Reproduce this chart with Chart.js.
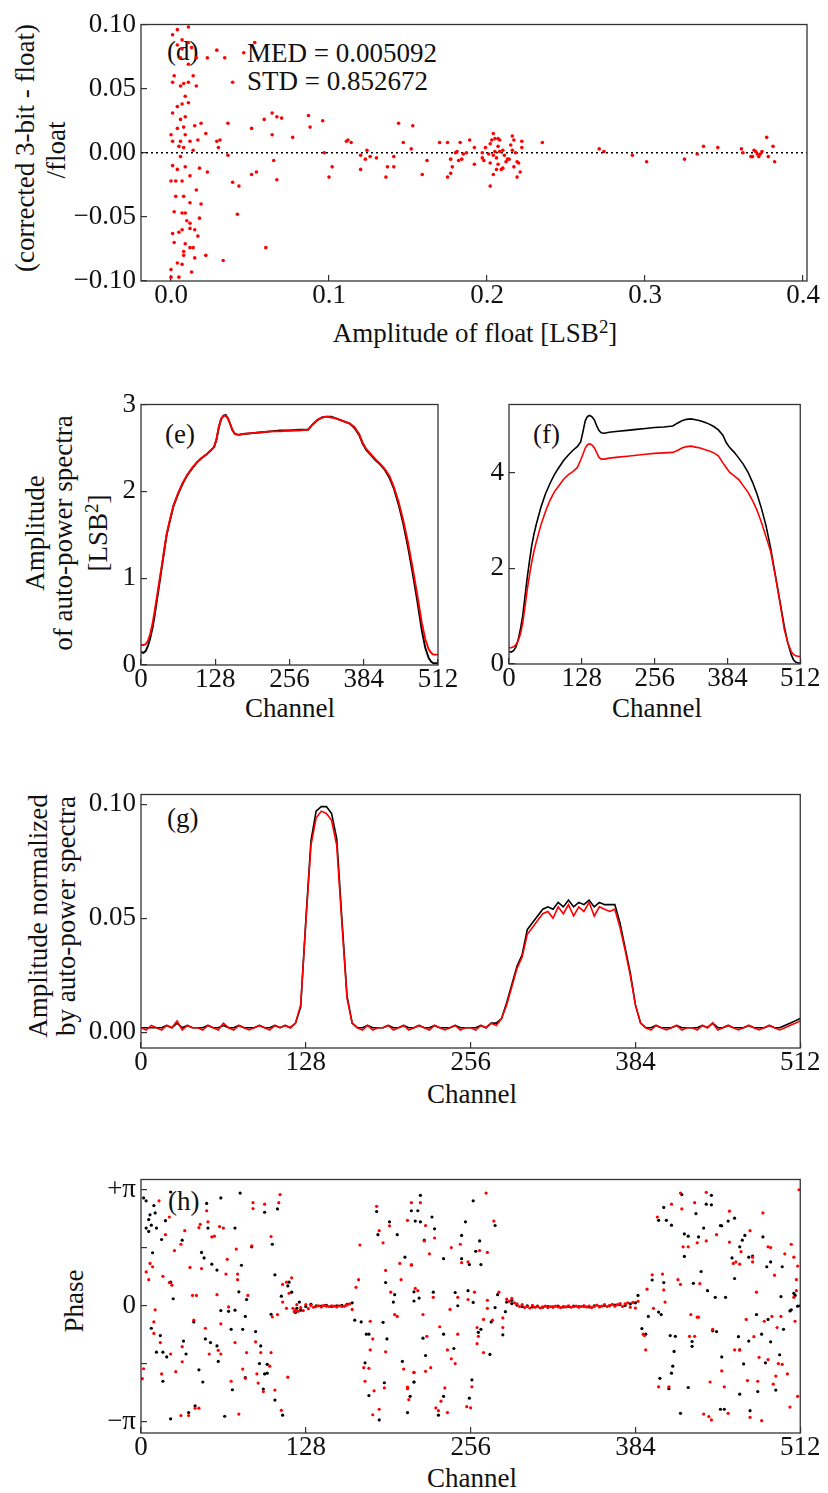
<!DOCTYPE html>
<html>
<head>
<meta charset="utf-8">
<script src="https://cdn.jsdelivr.net/npm/chart.js@4.4.1/dist/chart.umd.min.js"></script>
<style>
  html, body { margin: 0; padding: 0; background: #fff; }
  #page { position: relative; width: 828px; height: 1493px; overflow: hidden;
          font-family: "Liberation Serif", "Times New Roman", serif; color: #111; }
  canvas { position: absolute; }
  .t { position: absolute; white-space: nowrap; font-size: 27px; line-height: 1;
       transform: translate(-50%, -50%); }
  .v { transform: translate(-50%, -50%) rotate(-90deg); }
  .l { position: absolute; white-space: nowrap; font-size: 27px; line-height: 1;
       transform: translateY(-50%); }
  sup { font-size: 0.7em; vertical-align: 0.45em; line-height: 0; }
</style>
</head>
<body>
<div id="page">
  <!-- panel (d) -->
  <div class="t v" style="left:25px; top:148px">(corrected 3-bit - float)</div>
  <div class="t v" style="left:56px; top:150px">/float</div>
  <div class="t" style="left:475px; top:333px">Amplitude of float [LSB<sup>2</sup>]</div>
  <div class="l" style="left:167px; top:51px">(d)</div>
  <div class="l" style="left:247px; top:53px">MED = 0.005092</div>
  <div class="l" style="left:247px; top:81px">STD = 0.852672</div>

  <!-- panels (e), (f) -->
  <div class="t v" style="left:35px; top:533px">Amplitude</div>
  <div class="t v" style="left:63px; top:533px">of auto-power spectra</div>
  <div class="t v" style="left:98px; top:533px">[LSB<sup>2</sup>]</div>
  <div class="l" style="left:165px; top:434px">(e)</div>
  <div class="l" style="left:533px; top:434px">(f)</div>
  <div class="t" style="left:290px; top:708px">Channel</div>
  <div class="t" style="left:657px; top:708px">Channel</div>

  <!-- panel (g) -->
  <div class="t v" style="left:38px; top:916px">Amplitude normalized</div>
  <div class="t v" style="left:66px; top:916px">by auto-power spectra</div>
  <div class="l" style="left:167px; top:818px">(g)</div>
  <div class="t" style="left:472px; top:1094px">Channel</div>

  <!-- panel (h) -->
  <div class="t v" style="left:74px; top:1301px">Phase</div>
  <div class="l" style="left:168px; top:1201px">(h)</div>
  <div class="t" style="left:472px; top:1478px">Channel</div>

  <canvas id="cd" width="828" height="320" style="left:0; top:0"></canvas>
  <canvas id="ce" width="470" height="320" style="left:0; top:380px"></canvas>
  <canvas id="cf" width="358" height="320" style="left:470px; top:380px"></canvas>
  <canvas id="cg" width="828" height="320" style="left:0; top:770px"></canvas>
  <canvas id="ch" width="828" height="320" style="left:0; top:1155px"></canvas>
</div>

<script>
// ---- (d) relative difference vs amplitude ----
const dPoints = [
  [0.001,0.092],[0.004,0.096],[0.011,0.098],[0.007,0.088],[0.011,0.086],[0.004,0.084],[0.007,0.081],[0.013,0.082],
  [0.006,0.074],[0.011,0.069],[0.016,0.074],[0.023,0.074],[0.029,0.080],[0.034,0.074],[0.053,0.086],[0.046,0.078],
  [0.002,0.060],[0.006,0.052],[0.008,0.054],[0.011,0.055],[0.014,0.060],[0.016,0.052],[0.001,0.055],[0.009,0.044],
  [0.007,0.038],[0.004,0.036],[0.011,0.039],[0.001,0.031],[0.006,0.026],[0.009,0.028],[0.039,0.055],[0.000,0.014],
  [0.004,0.019],[0.008,0.020],[0.015,0.021],[0.019,0.023],[0.001,0.009],[0.006,0.009],[0.009,0.014],[0.012,0.009],
  [0.017,0.010],[0.022,0.015],[0.005,0.005],[0.008,0.004],[0.014,0.002],[0.029,0.009],[0.031,0.010],[0.030,0.004],
  [0.036,0.023],[0.036,-0.002],[0.006,-0.003],[0.001,-0.010],[0.004,-0.013],[0.009,-0.011],[0.018,-0.012],[0.023,-0.015],
  [0.000,-0.022],[0.003,-0.022],[0.007,-0.022],[0.012,-0.018],[0.016,-0.029],[0.003,-0.034],[0.008,-0.034],[0.012,-0.039],
  [0.019,-0.040],[0.018,-0.051],[0.002,-0.046],[0.007,-0.047],[0.009,-0.047],[0.010,-0.053],[0.012,-0.055],[0.007,-0.060],
  [0.012,-0.059],[0.015,-0.060],[0.001,-0.063],[0.005,-0.062],[0.017,-0.065],[0.002,-0.070],[0.009,-0.071],[0.012,-0.074],
  [0.014,-0.074],[0.008,-0.077],[0.008,-0.080],[0.015,-0.082],[0.022,-0.080],[0.004,-0.086],[0.007,-0.087],[0.000,-0.091],
  [0.013,-0.093],[0.005,-0.097],[0.000,-0.097],[0.033,-0.084],[0.042,-0.048],[0.039,-0.023],[0.043,-0.026],[0.051,-0.017],
  [0.054,-0.015],[0.060,-0.074],[0.051,0.019],[0.059,0.026],[0.064,0.031],[0.067,0.028],[0.070,0.027],[0.064,0.014],
  [0.065,-0.006],[0.067,-0.021],[0.077,0.012],[0.087,0.029],[0.088,0.020],[0.096,0.025],[0.097,0.000],[0.102,-0.011],
  [0.100,-0.019],[0.111,0.009],[0.112,0.010],[0.114,0.008],[0.120,-0.002],[0.120,-0.013],[0.124,0.002],[0.123,-0.005],
  [0.126,-0.003],[0.130,-0.004],[0.136,-0.019],[0.137,-0.011],[0.141,-0.011],[0.141,-0.003],[0.144,0.023],[0.147,0.008],
  [0.153,0.021],[0.152,0.003],[0.159,-0.017],[0.162,-0.006],[0.170,0.008],[0.175,0.008],[0.175,-0.019],[0.177,-0.016],
  [0.178,-0.011],[0.177,-0.005],[0.180,0.000],[0.181,0.001],[0.183,0.008],[0.182,-0.006],[0.184,-0.005],[0.185,-0.001],
  [0.187,0.000],[0.189,0.010],[0.192,-0.009],[0.192,0.004],[0.197,0.000],[0.197,-0.004],[0.198,-0.006],[0.199,0.004],
  [0.202,0.007],[0.204,0.015],[0.203,0.010],[0.205,0.011],[0.207,0.011],[0.208,0.010],[0.201,-0.001],[0.202,-0.008],
  [0.204,-0.002],[0.205,0.001],[0.206,-0.004],[0.207,-0.009],[0.206,-0.013],[0.204,-0.017],[0.202,-0.026],[0.208,0.001],
  [0.207,0.005],[0.209,-0.013],[0.210,-0.012],[0.210,0.002],[0.211,-0.002],[0.212,-0.007],[0.213,-0.005],[0.214,-0.005],
  [0.215,0.006],[0.216,0.013],[0.217,0.010],[0.216,0.002],[0.218,0.000],[0.217,-0.011],[0.219,-0.007],[0.219,-0.019],
  [0.220,-0.008],[0.221,-0.015],[0.222,0.009],[0.222,0.004],[0.235,0.008],[0.271,0.003],[0.274,0.001],[0.292,-0.002],
  [0.301,-0.007],[0.325,-0.005],[0.333,-0.001],[0.337,0.005],[0.346,0.004],[0.361,0.003],[0.362,0.000],[0.367,-0.003],
  [0.368,-0.003],[0.369,0.002],[0.370,0.001],[0.371,-0.001],[0.372,-0.003],[0.373,-0.001],[0.374,0.001],[0.377,0.012],
  [0.378,-0.003],[0.381,0.005],[0.382,-0.007]
];
const dXTicks = [0, 0.1, 0.2, 0.3, 0.4];
const dYTicks = [-0.1, -0.05, 0, 0.05, 0.1];

// ---- (e), (f) auto-power spectra, sampled channels ----
const specCh = [0,4,8,12,16,20,24,28,32,36, 40,44,48,56,64,72,80,88,96,104,
  112,120,126,130,134,138,142,146,150,154, 158,162,168,176,192,208,224,240,256,272,
  288,296,304,312,320,328,336,344,352,360, 368,376,382,388,396,404,412,420,428,436,
  444,452,460,468,476,484,490,496,500,504, 508,512];
const eBlack = [0.15,0.14,0.16,0.22,0.31,0.43,0.59,0.77,0.95,1.13, 1.31,1.49,1.61,1.83,1.97,2.09,2.19,2.26,2.33,2.38,
  2.42,2.47,2.51,2.59,2.73,2.83,2.87,2.88,2.84,2.77, 2.70,2.66,2.65,2.66,2.67,2.68,2.69,2.70,2.70,2.71,
  2.71,2.77,2.82,2.85,2.86,2.86,2.84,2.82,2.80,2.78, 2.73,2.65,2.55,2.48,2.42,2.36,2.31,2.25,2.16,2.03,
  1.85,1.63,1.37,1.07,0.75,0.40,0.20,0.08,0.04,0.02, 0.02,0.02];
const eRed = [0.23,0.23,0.24,0.28,0.36,0.48,0.64,0.81,0.98,1.15, 1.33,1.50,1.62,1.84,1.98,2.10,2.19,2.27,2.33,2.38,
  2.42,2.47,2.51,2.60,2.74,2.83,2.87,2.87,2.84,2.77, 2.70,2.66,2.65,2.66,2.67,2.68,2.69,2.69,2.70,2.70,
  2.71,2.77,2.82,2.85,2.86,2.85,2.84,2.82,2.80,2.78, 2.74,2.66,2.56,2.49,2.43,2.37,2.32,2.26,2.18,2.05,
  1.88,1.67,1.42,1.13,0.82,0.49,0.30,0.18,0.14,0.12, 0.12,0.12];
const fBlack = [0.26,0.25,0.28,0.35,0.50,0.72,1.00,1.40,1.80,2.15, 2.48,2.72,2.92,3.27,3.55,3.77,3.96,4.11,4.25,4.36,
  4.46,4.54,4.64,4.85,5.08,5.17,5.19,5.16,5.10,4.98, 4.88,4.83,4.82,4.84,4.86,4.88,4.90,4.92,4.94,4.95,
  4.97,5.03,5.08,5.11,5.12,5.10,5.08,5.05,5.01,4.96, 4.89,4.78,4.62,4.52,4.42,4.30,4.17,4.01,3.80,3.55,
  3.24,2.88,2.42,1.87,1.33,0.78,0.45,0.20,0.09,0.04, 0.02,0.02];
const fRed = [0.34,0.34,0.36,0.40,0.48,0.62,0.85,1.18,1.55,1.85, 2.13,2.36,2.55,2.90,3.18,3.42,3.60,3.73,3.86,3.95,
  4.02,4.10,4.26,4.38,4.51,4.58,4.60,4.57,4.52,4.42, 4.32,4.28,4.28,4.30,4.32,4.34,4.36,4.38,4.40,4.41,
  4.42,4.46,4.51,4.54,4.55,4.53,4.51,4.48,4.45,4.41, 4.35,4.20,4.10,4.00,3.93,3.85,3.72,3.59,3.42,3.21,
  2.95,2.65,2.35,1.85,1.30,0.72,0.45,0.26,0.20,0.17, 0.16,0.15];
const chTicks = [0, 128, 256, 384, 512];
const eYTicks = [0, 1, 2, 3];
const fYTicks = [0, 2, 4];

// ---- (g) normalized cross amplitude, every 4th channel ----
const gStep = 4;
const gBlack = [
  .002,.002,.002,.002,.002,.003,.002,.004,.002,.003,.002,.002,.002,.003,.002,.002,
  .003,.002,.002,.003,.002,.002,.002,.003,.002,.002,.003,.002,.003,.002,.004,.011,
  .049,.084,.097,.099,.099,.096,.085,.050,.016,.004,.002,.002,.003,.002,.002,.002,
  .003,.002,.002,.003,.002,.002,.003,.002,.002,.003,.002,.002,.002,.003,.002,.002,
  .002,.002,.003,.002,.004,.004,.006,.013,.021,.029,.034,.045,.048,.051,.054,.055,
  .054,.057,.055,.058,.055,.057,.056,.058,.055,.057,.056,.056,.056,.048,.037,.026,
  .012,.004,.002,.002,.003,.002,.002,.002,.003,.002,.002,.002,.002,.003,.002,.004,
  .002,.002,.003,.002,.002,.002,.003,.002,.002,.002,.003,.002,.002,.003,.004,.005,
  .006];
const gRed = [
  .002,.001,.003,.002,.001,.003,.002,.005,.001,.003,.002,.002,.001,.003,.002,.001,
  .004,.002,.001,.003,.002,.001,.002,.003,.002,.001,.003,.002,.003,.002,.004,.012,
  .048,.082,.094,.097,.096,.093,.082,.048,.015,.004,.002,.001,.003,.001,.002,.002,
  .003,.001,.002,.003,.001,.002,.003,.002,.001,.003,.002,.001,.002,.003,.001,.002,
  .002,.001,.003,.002,.004,.003,.006,.012,.020,.028,.033,.043,.046,.049,.052,.053,
  .050,.055,.052,.056,.051,.055,.053,.057,.051,.055,.054,.053,.054,.046,.036,.025,
  .012,.004,.002,.001,.003,.002,.001,.002,.003,.001,.002,.002,.001,.003,.002,.004,
  .001,.002,.003,.002,.001,.002,.003,.002,.001,.002,.003,.002,.001,.002,.003,.004,
  .005];
const gYTicks = [0, 0.05, 0.1];

// ---- (h) cross-spectrum phase [channel, rad] ----
const hBlack = [
  [2,2.93],[4,2.85],[6,2.34],[7,2.47],[10,2.72],[11,2.52],[12,2.11],[4,2.11],[6,2.02],[8,2.19],[23,3.09],[16,1.80],
  [19,2.31],[23,0.64],[25,0.19],[9,1.44],[8,-0.61],[15,-0.81],[12,-1.26],[17,-1.26],[20,-1.39],[17,-2.05],[33,-0.96],
  [35,-1.31],[45,-1.74],[41,-0.44],[42,-2.72],[37,-2.90],[23,-3.07],[48,-2.07],[32,1.78],[47,1.45],[49,1.30],[55,1.13],
  [59,0.97],[62,-0.13],[68,-0.15],[73,-0.12],[70,-0.64],[79,-0.64],[76,0.38],[78,1.10],[82,0.17],[81,-0.29],[73,2.11],
  [77,3.06],[62,2.93],[51,2.78],[52,2.11],[50,-0.90],[54,-1.00],[59,-1.09],[60,-1.51],[65,-3.00],[71,-2.28],[81,-1.95],
  [89,-0.70],[86,1.60],[92,-1.57],[93,-1.09],[96,-1.85],[98,-1.83],[95,-2.26],[98,-1.59],[96,2.54],[102,1.67],[106,2.63],
  [104,0.84],[101,-0.23],[109,0.26],[114,0.54],[110,-2.97],[104,-2.56],[115,0.64],[117,0.37],[121,-0.07],[123,0.10],
  [120,-0.18],[124,-0.12],[128,-0.02],[132,0.04],[136,0.00],[140,-0.01],[144,0.01],[148,-0.02],[152,0.00],[156,0.01],
  [160,0.04],[164,0.08],
  [166,-0.39],[171,-0.44],[174,-1.55],[175,-0.77],[177,-0.77],[177,-2.44],[183,2.56],[184,1.93],[185,-3.10],[188,-0.45],
  [189,-2.09],[190,0.63],[191,-0.90],[193,2.28],[196,0.10],[197,0.30],[199,1.93],[203,-1.51],[205,1.32],[207,-2.90],
  [210,2.58],[213,2.30],[212,-2.07],[212,0.38],
  [217,3.00],[215,2.58],[217,2.28],[226,2.41],[228,2.09],[220,1.78],[235,1.28],[249,1.91],[252,2.28],[249,1.28],[255,1.12],
  [258,2.85],[260,1.48],[263,1.76],[264,1.12],[275,2.18],[216,0.21],[212,0.13],[227,0.37],[244,0.36],[246,0.00],[254,0.41],
  [258,0.09],[272,-0.44],[275,-0.05],[277,0.30],[264,-0.64],[262,-0.72],[281,-0.79],[283,-0.16],[219,-0.88],[221,-1.35],
  [235,-0.77],[243,-1.16],[212,-2.07],[209,-2.46],[235,-2.46],[231,-2.97],[255,-2.51],[257,-2.01],[271,-1.32],[288,0.06],
  [284,0.10],[288,0.15],[292,0.02],[296,-0.02],[300,0.00],[304,-0.03],[308,-0.01],[312,-0.04],[316,-0.02],[320,-0.03],
  [324,-0.01],[328,-0.03],[332,-0.02],[336,-0.01],[340,-0.02],[344,-0.01],[348,-0.03],[352,0.00],[356,-0.02],[360,0.01],
  [364,0.00],[368,0.02],[372,0.03],[376,0.01],[380,0.05],[384,0.08],
  [386,0.28],[389,-0.62],[392,-0.77],[397,0.70],[394,-0.29],[402,2.32],[408,2.32],[412,2.19],[406,2.67],[406,0.63],
  [402,-0.17],[404,-0.24],[411,-0.81],[415,-0.83],[414,-1.24],[413,-1.64],[412,-1.83],[410,-2.25],[403,-1.97],[419,-2.92],
  [420,3.02],[422,1.95],[425,1.89],[422,1.34],[429,0.61],[431,2.50],[433,1.87],[437,2.11],[439,2.76],[443,2.74],[443,3.00],
  [435,0.93],[440,0.41],[444,-0.68],[447,-0.70],[428,-0.97],[428,-1.10],[446,0.23],[450,2.18],[451,2.17],[451,-1.39],
  [456,2.30],[461,2.38],[454,0.23],[461,0.74],[464,-0.84],[465,1.60],[467,1.78],[469,1.91],[459,1.30],[468,-1.58],
  [472,1.32],[475,1.35],[483,1.87],[478,-0.24],[479,-2.33],[486,1.06],[489,1.19],[487,-0.37],[482,-0.77],[489,-0.98],
  [485,-1.55],[496,-1.33],[493,-2.29],[499,-0.64],[498,1.06],[497,0.25],[504,-0.14],[505,-0.11],[507,0.34],[508,0.28],
  [510,-0.01],[512,0.00],[473,-2.85],[465,-2.40],[450,-2.81],[453,-2.81],[465,-1.20],[472,-0.96],[425,-2.22]
];
const hRed = [
  [1,-1.98],[2,-1.71],[4,0.92],[6,0.71],[7,1.15],[9,1.06],[11,-0.11],[10,-0.75],[10,-0.44],[17,0.80],[16,-1.85],
  [15,-1.00],[22,0.63],[24,0.56],[23,-1.31],[26,1.50],[27,-1.79],[14,2.85],[19,1.93],[22,2.41],[31,1.67],[34,2.04],
  [32,-1.11],[32,-1.52],[31,-2.98],[37,-2.98],[42,-2.78],[45,-2.78],[38,1.04],[40,0.28],[43,0.28],[41,-0.39],[45,2.12],
  [46,2.21],[51,2.58],[52,2.28],[50,-0.61],[47,1.01],[53,-1.31],[55,1.87],[57,1.89],[59,0.30],[60,-1.21],[62,-1.31],
  [62,-0.49],[61,2.15],[64,2.11],[66,0.86],[67,1.26],[68,-0.03],[70,-2.05],[73,-1.00],[74,1.54],[75,0.86],[75,0.71],
  [76,-2.94],[79,-1.72],[81,-1.97],[82,-1.27],[83,0.28],[86,1.63],[87,2.80],[87,2.64],[89,-0.98],[90,-1.85],[91,-2.10],
  [93,-1.27],[95,-2.33],[96,2.76],[100,-1.64],[101,-1.27],[101,1.88],[102,-0.30],[104,-2.29],[106,-0.24],[108,3.02],
  [107,2.80],[109,-2.84],[110,0.58],[113,0.64],[110,0.10],[114,-1.94],[113,-0.07],[115,0.34],[117,0.76],[118,-0.07],
  [119,-0.16],[121,0.03],
  [120,-0.12],[122,-0.15],[124,-0.05],[126,-0.13],[128,0.03],[130,-0.08],[132,0.01],[134,-0.04],[136,-0.02],[138,0.00],
  [140,-0.03],[142,0.01],[144,-0.01],[146,-0.02],[148,0.00],[150,-0.01],[152,-0.03],[154,0.00],[156,-0.02],[158,-0.01],
  [160,0.02],[162,0.05],[164,-0.10],
  [167,0.50],[169,0.71],[170,1.65],[173,-1.68],[177,-1.70],[174,-2.05],[178,-0.42],[178,-1.20],[180,-0.90],[180,-2.96],
  [181,-2.31],[185,-2.81],[183,2.70],[185,2.04],[188,1.71],[190,0.96],[190,-1.25],[189,-2.23],[193,2.17],[194,0.37],
  [197,-0.24],[199,-0.29],[201,1.15],[202,0.71],[204,-1.72],[207,-2.25],[208,-2.55],[210,2.80],[207,2.32],[210,1.12],
  [212,-1.81],
  [217,2.80],[210,1.10],[220,1.76],[221,2.18],[228,1.84],[224,1.41],[241,1.58],[248,1.67],[249,1.17],[254,1.19],[263,1.50],
  [269,1.45],[268,3.06],[274,2.30],[213,0.47],[215,0.41],[227,0.23],[240,-0.10],[246,0.23],[254,0.17],[259,0.37],[269,0.15],
  [269,-0.07],[278,0.37],[266,-0.37],[273,-0.39],[281,-0.33],[261,-0.59],[262,-0.83],[261,-1.03],[266,-1.27],[246,-0.77],
  [219,-0.24],[222,-0.83],[221,-1.78],[225,-1.68],[212,-1.81],[207,-2.21],[238,-1.20],[241,-1.44],[244,-1.57],[232,-0.57],
  [236,-2.23],[233,-2.59],[229,-2.77],[238,-2.90],[231,-2.85],[253,-2.74],[257,-2.20],[256,-2.77],[281,-0.59],
  [284,0.18],[286,0.12],[288,0.20],[290,0.08],[292,0.05],[294,-0.02],[296,0.03],[298,-0.05],[300,-0.02],[302,-0.06],
  [304,0.01],[306,-0.04],[308,-0.02],[310,-0.06],[312,-0.03],[314,-0.01],[316,-0.05],[318,-0.02],[320,-0.04],[322,-0.01],
  [324,-0.03],[326,-0.05],[328,-0.02],[330,-0.03],[332,0.00],[334,-0.04],[336,-0.02],[338,-0.01],[340,-0.04],[342,-0.02],
  [344,0.00],[346,-0.03],[348,-0.01],[350,-0.05],[352,-0.02],[354,0.02],[356,-0.03],[358,-0.01],[360,0.03],[362,-0.02],
  [364,0.01],[366,0.04],[368,-0.01],[370,0.03],[372,0.06],[374,-0.02],[376,0.05],[378,0.08],[380,-0.04],[382,0.09],
  [384,-0.06],[386,0.12],
  [390,-0.77],[391,-0.81],[392,-1.20],[393,0.45],[397,0.84],[398,-0.07],[405,0.86],[406,0.43],[407,0.10],[402,-2.20],
  [410,-2.20],[412,2.76],[420,2.63],[419,3.06],[401,2.41],[417,0.71],[419,0.58],[421,1.60],[425,1.60],[426,-0.83],
  [430,-0.83],[427,-0.24],[432,-0.31],[433,-0.31],[430,2.80],[432,1.71],[439,1.76],[439,3.08],[434,0.60],[442,-2.07],
  [437,-2.94],[443,-3.10],[441,-3.01],[444,-0.64],[447,1.93],[451,-1.77],[453,-2.20],[456,-2.92],[457,2.57],[457,1.73],
  [460,1.15],[461,-1.20],[465,-1.20],[462,1.19],[465,1.13],[466,1.47],[470,-0.37],[473,2.04],[471,-2.03],[473,-3.03],
  [475,1.32],[475,1.19],[476,-0.84],[478,0.37],[479,-2.05],[480,-1.40],[482,-3.12],[483,2.52],[484,-0.42],[487,1.60],
  [487,-1.46],[489,1.58],[490,-0.29],[492,0.83],[494,-0.59],[495,-1.57],[491,-2.13],[493,-1.91],[497,-0.29],[498,-1.59],
  [500,1.41],[502,-1.85],[504,-2.75],[505,1.67],[507,1.32],[508,-0.42],[509,0.71],[510,1.08],[510,-2.46],[511,3.15],
  [507,0.23],[509,0.41]
];
const hYTicks = [-Math.PI, -Math.PI / 2, 0, Math.PI / 2, Math.PI];

// ---- drawing ----
const serif = "'Liberation Serif', 'Times New Roman', serif";
const ink = '#333';
const RED = '#ff0000';
const BLACK = '#000000';

const framePlugin = {
  id: 'frame',
  afterDraw(chart) {
    const a = chart.chartArea, ctx = chart.ctx;
    ctx.save();
    ctx.strokeStyle = ink;
    ctx.lineWidth = 1.3;
    ctx.strokeRect(a.left, a.top, a.right - a.left, a.bottom - a.top);
    ctx.restore();
  }
};

function axis(dir, min, max, ticks, fmt, size) {
  return {
    type: 'linear', min, max,
    afterBuildTicks: s => { s.ticks = ticks.map(v => ({ value: v })); },
    afterFit: s => { if (dir === 'x') s.height = size; else s.width = size; },
    grid: { drawOnChartArea: false, drawTicks: true, tickLength: -6, color: ink, lineWidth: 1.2 },
    border: { display: false },
    ticks: {
      padding: dir === 'x' ? 7.5 : 11,
      color: '#111',
      font: { family: serif, size: 27, lineHeight: 1 },
      maxRotation: 0, autoSkip: false,
      callback: fmt
    }
  };
}

function panel(id, datasets, xs, ys, pad) {
  return new Chart(document.getElementById(id), {
    type: 'scatter',
    data: { datasets },
    options: {
      responsive: false, animation: false, devicePixelRatio: 1, events: [],
      layout: { padding: pad },
      plugins: { legend: { display: false }, tooltip: { enabled: false } },
      scales: { x: xs, y: ys }
    },
    plugins: [framePlugin]
  });
}

const asPts = arr => arr.map(p => ({ x: p[0], y: p[1] }));
const line = (xs, ys, color, w) => ({
  data: xs.map((x, i) => ({ x, y: ys[i] })),
  showLine: true, borderColor: color, borderWidth: w, pointRadius: 0, tension: 0
});
const dots = (arr, color, r) => ({
  data: asPts(arr), backgroundColor: color, borderWidth: 0, pointRadius: r
});

const fmtInt = v => String(v);
const fmtSigned2 = v => (v < 0 ? '\u2212' : '') + Math.abs(v).toFixed(2);
const fmtPhase = v => v === 0 ? '0' : (Math.abs(Math.abs(v) - Math.PI) < 1e-9 ? (v > 0 ? '+\u03c0' : '\u2212\u03c0') : '');

// (d)
const dXMin = -0.019, dXMax = 0.4025;
panel('cd', [
  dots(dPoints, RED, 1.8),
  { data: [{ x: dXMin, y: 0 }, { x: dXMax, y: 0 }], showLine: true, borderColor: BLACK,
    borderWidth: 1.6, borderDash: [2, 3], pointRadius: 0 }
], axis('x', dXMin, dXMax, dXTicks, v => v.toFixed(1), 39),
   axis('y', -0.1, 0.1, dYTicks, fmtSigned2, 141),
   { top: 16, right: 21, left: 0, bottom: 0 });

// (e)
panel('ce', [line(specCh, eRed, RED, 1.9), line(specCh, eBlack, BLACK, 1.9)],
  axis('x', 0, 512, chTicks, fmtInt, 35),
  axis('y', 0, 3, eYTicks, fmtInt, 141),
  { top: 21, right: 32, left: 0, bottom: 0 });

// (f)
panel('cf', [line(specCh, fRed, RED, 1.6), line(specCh, fBlack, BLACK, 1.6)],
  axis('x', 0, 512, chTicks, fmtInt, 36),
  axis('y', 0, 5.42, fYTicks, fmtInt, 39),
  { top: 21, right: 21, left: 0, bottom: 0 });

// (g)
const gCh = gRed.map((_, i) => i * gStep);
panel('cg', [line(gCh, gRed, RED, 1.6), line(gCh, gBlack, BLACK, 1.6)],
  axis('x', 0, 512, chTicks, fmtInt, 42),
  axis('y', -0.0069, 0.1043, gYTicks, v => v.toFixed(2), 141),
  { top: 14, right: 21, left: 0, bottom: 0 });

// (h)
panel('ch', [dots(hRed, RED, 1.6), dots(hBlack, BLACK, 1.6)],
  axis('x', 0, 512, chTicks, fmtInt, 42),
  axis('y', -3.455, 3.429, hYTicks, fmtPhase, 141),
  { top: 14, right: 22, left: 0, bottom: 0 });
</script>
</body>
</html>
